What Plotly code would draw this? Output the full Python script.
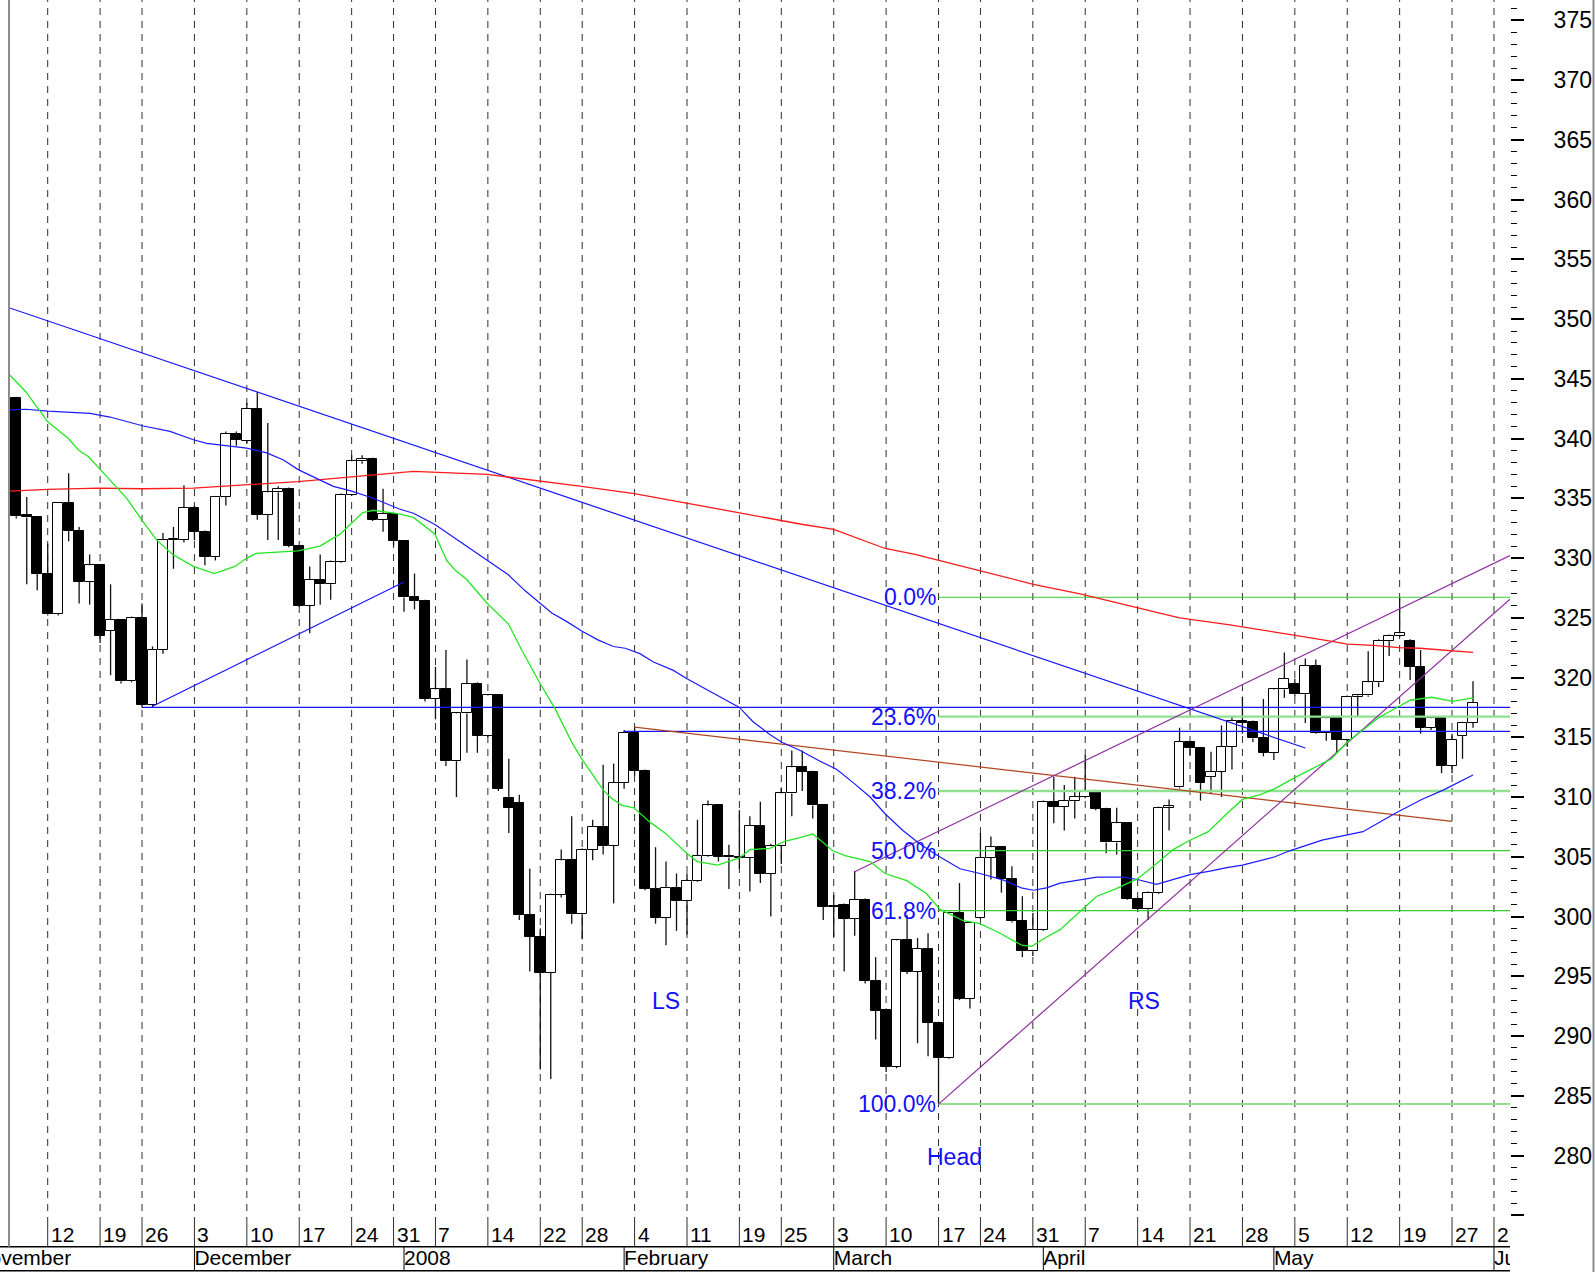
import plotly.graph_objects as go
import pandas as pd

W, H = 1595, 1272

# ---------------- calendar ----------------
HOLIDAYS = ["2007-11-22", "2007-12-25", "2008-01-01", "2008-01-21",
            "2008-02-18", "2008-03-21", "2008-05-26"]
SESSIONS = [d.strftime("%Y-%m-%d") for d in
            pd.bdate_range("2007-11-01", "2008-06-06", freq="C", holidays=HOLIDAYS)]
ORIGIN = "2007-11-12"


def xpos(day):
    return SESSIONS.index(day) - SESSIONS.index(ORIGIN)


# ---------------- candles (from 2007-11-07) ----------------
CANDLE_START = "2007-11-07"
OPEN = [343.4, 333.6, 333.4, 328.7, 325.3, 334.6, 332.3, 328.0, 329.4, 323.9,
        324.8, 319.7, 325.0, 317.7, 322.3, 331.5, 331.5, 334.2, 332.2, 330.1,
        335.1, 340.4, 339.8, 342.5, 333.6, 335.5, 335.8, 331.0, 326.0, 328.2,
        327.8, 329.7, 335.3, 338.1, 338.3, 333.2, 333.7, 331.4, 326.7, 326.4,
        318.2, 319.0, 313.0, 317.0, 319.5, 315.1, 318.5, 309.9, 309.5, 300.1,
        298.3, 295.3, 301.8, 304.7, 300.2, 305.6, 307.5, 305.9, 311.2, 315.4,
        312.2, 302.3, 299.9, 302.4, 301.3, 303.0, 305.1, 309.3, 305.1, 305.0,
        304.9, 307.6, 303.6, 305.9, 310.3, 312.5, 312.1, 309.3, 300.8, 301.0,
        299.8, 301.4, 294.6, 292.2, 287.4, 298.0, 295.4, 297.3, 291.1, 288.2,
        300.3, 293.1, 299.9, 304.9, 305.8, 303.1, 299.6, 297.1, 298.9, 309.6,
        309.2, 309.7, 310.0, 310.5, 309.0, 306.2, 307.8, 301.5, 300.6, 302.0,
        309.1, 310.8, 314.6, 314.1, 311.7, 312.1, 314.2, 316.4, 316.3, 314.9,
        313.7, 319.0, 319.5, 318.6, 321.0, 315.4, 316.6, 314.8, 318.4, 318.5,
        319.6, 323.1, 323.5, 323.1, 320.9, 315.8, 316.6, 312.6, 315.1, 316.2]
HIGH = [343.5, 335.1, 333.5, 331.2, 334.7, 337.1, 332.6, 330.3, 329.5, 327.8,
        324.9, 325.1, 326.2, 322.6, 332.1, 332.6, 336.1, 334.4, 332.3, 335.2,
        340.6, 340.6, 343.0, 343.9, 341.3, 336.0, 335.9, 331.1, 329.3, 330.3,
        329.8, 335.4, 338.6, 338.6, 338.4, 335.8, 333.8, 331.5, 328.7, 326.5,
        320.9, 322.3, 317.1, 321.5, 319.6, 318.6, 318.6, 313.2, 310.2, 304.0,
        299.0, 301.9, 305.6, 308.4, 305.7, 308.1, 312.7, 312.8, 315.6, 315.8,
        312.3, 305.8, 304.6, 303.6, 303.6, 308.1, 309.7, 309.4, 306.0, 308.9,
        308.4, 309.6, 306.1, 310.8, 313.9, 313.9, 312.2, 309.4, 301.8, 301.1,
        303.8, 301.5, 296.6, 292.3, 298.1, 300.1, 298.2, 298.6, 291.2, 300.4,
        302.8, 299.6, 307.0, 306.7, 305.9, 304.2, 301.7, 300.3, 309.7, 311.7,
        311.0, 311.7, 313.5, 310.6, 309.1, 309.1, 307.9, 301.6, 302.1, 309.2,
        309.8, 315.8, 314.7, 314.2, 313.8, 316.0, 316.8, 318.4, 316.4, 318.2,
        319.1, 322.1, 319.9, 321.6, 321.5, 316.7, 316.7, 318.5, 318.6, 322.2,
        323.2, 323.6, 326.7, 323.2, 322.3, 316.7, 316.7, 315.3, 316.3, 319.7]
LOW = [333.3, 327.8, 327.3, 325.2, 325.2, 331.4, 326.2, 326.1, 322.9, 320.2,
       319.5, 319.6, 317.5, 317.5, 322.0, 329.1, 331.3, 331.5, 329.4, 329.8,
       334.4, 339.4, 339.6, 333.2, 331.5, 331.5, 330.9, 325.9, 323.7, 326.1,
       326.5, 329.6, 335.2, 337.9, 333.1, 332.2, 331.0, 325.5, 325.7, 318.0,
       316.5, 312.6, 310.0, 313.7, 313.7, 315.0, 310.5, 307.0, 299.7, 295.4,
       287.2, 286.4, 301.6, 299.4, 298.1, 304.7, 305.2, 301.1, 310.7, 311.8,
       302.2, 299.4, 297.6, 298.8, 298.5, 302.9, 305.0, 304.6, 302.3, 304.0,
       302.1, 302.8, 300.0, 304.4, 308.4, 310.5, 308.2, 299.7, 298.3, 295.4,
       298.4, 294.4, 289.7, 287.0, 287.3, 295.2, 289.4, 288.3, 284.3, 288.1,
       293.0, 292.3, 299.8, 303.1, 302.0, 299.5, 296.6, 296.7, 298.8, 307.8,
       307.2, 308.2, 309.9, 308.9, 305.3, 305.2, 301.4, 300.4, 299.7, 301.9,
       307.2, 310.7, 313.5, 309.7, 310.3, 310.0, 312.3, 315.3, 314.6, 313.4,
       313.1, 318.3, 318.4, 316.2, 315.3, 314.7, 313.7, 314.2, 316.7, 318.4,
       319.2, 321.8, 323.4, 319.8, 315.3, 315.6, 312.0, 312.0, 313.2, 315.8]
CLOSE = [333.5, 333.4, 328.7, 325.3, 334.6, 332.3, 328.0, 329.4, 323.5, 324.8,
         319.7, 325.0, 317.7, 322.3, 331.5, 331.6, 334.2, 332.2, 330.1, 335.1,
         340.4, 339.9, 342.5, 333.6, 335.5, 335.8, 331.0, 326.0, 328.2, 327.8,
         329.7, 335.3, 338.1, 338.3, 333.2, 333.7, 331.4, 326.7, 326.4, 318.2,
         319.0, 313.0, 317.0, 319.5, 315.1, 318.5, 310.7, 309.1, 300.1, 298.3,
         295.3, 301.8, 304.7, 300.2, 305.6, 307.5, 305.9, 311.2, 315.4, 312.2,
         302.3, 299.9, 302.4, 301.3, 303.0, 305.1, 309.3, 305.0, 304.95, 304.9,
         307.6, 303.6, 305.9, 310.3, 312.5, 312.1, 309.3, 300.8, 300.9, 299.8,
         301.4, 294.6, 292.1, 287.4, 298.0, 295.4, 297.3, 291.1, 288.2, 300.3,
         293.1, 299.5, 304.9, 305.8, 303.1, 299.6, 297.1, 298.9, 309.6, 309.2,
         309.7, 310.0, 310.5, 309.0, 306.2, 307.8, 301.5, 300.6, 302.0, 309.1,
         309.2, 314.6, 314.1, 311.2, 312.1, 314.2, 316.4, 316.2, 314.9, 313.7,
         319.0, 319.9, 318.6, 321.0, 315.4, 316.6, 314.8, 318.4, 318.5, 319.6,
         323.1, 323.5, 323.7, 320.9, 315.8, 316.6, 312.6, 314.8, 316.2, 317.9]

# ---------------- moving averages (trading-day number, value) ----------------
GREEN_MA = [(-3.6, 345.3), (-2.07, 343.9), (0, 341.4), (1.97, 340.0), (2.99, 339.0), (3.87, 338.5),
            (4.92, 337.5), (6.74, 335.7), (7.54, 335.0), (8.97, 333.2), (10.4, 331.5), (11.93, 330.3),
            (13.9, 329.3), (15.9, 328.7), (17.87, 329.3), (19.0, 330.0), (19.9, 330.4), (23.9, 330.6),
            (25.98, 331.0), (27.89, 332.0), (29.0, 332.9), (30.06, 333.8), (31.07, 334.0), (32.66, 333.8),
            (33.5, 333.7), (34.9, 333.4), (36.95, 332.0), (38.07, 329.8), (38.86, 329.0), (39.98, 328.2),
            (41.95, 326.2), (43.95, 324.5), (45.23, 322.3), (46.98, 319.5), (48.41, 317.4), (50.0, 314.6),
            (50.95, 313.2), (51.9, 312.0), (53.0, 310.6), (53.8, 309.9), (54.77, 309.3), (55.94, 309.1),
            (57.47, 307.9), (58.9, 307.0), (60.97, 305.3), (61.98, 304.6), (63.93, 304.3), (65.99, 304.9),
            (67.0, 305.6), (68.9, 305.7), (70.33, 306.3), (71.76, 306.6), (73.0, 306.9), (74.0, 306.2),
            (74.9, 305.5), (76.08, 305.1), (78.47, 304.6), (79.9, 303.6), (81.97, 303.0), (83.87, 301.9),
            (85.14, 300.6), (87.37, 299.65), (88.96, 299.4), (90.87, 298.6), (92.94, 297.6), (93.89, 297.5),
            (95.16, 298.2), (96.6, 298.9), (98.98, 300.8), (100.1, 301.7), (101.85, 302.3), (103.97, 303.15),
            (105.5, 304.2), (107.4, 305.6), (108.8, 306.3), (110.74, 307.1), (112.5, 308.6), (114.0, 309.8),
            (115.7, 310.2), (117.1, 310.7), (118.95, 311.6), (120.76, 312.4), (122.5, 313.2), (124.0, 314.6),
            (125.86, 315.9), (127.1, 316.7), (128.97, 317.6), (130.0, 318.1), (132.06, 318.35), (134.06, 318.0),
            (136.0, 318.3)]
BLUE_MA = [(-3.6, 342.4), (-2.07, 342.45), (0, 342.3), (1.97, 342.2), (4.04, 342.1), (5.94, 341.8),
           (8.0, 341.3), (9.12, 341.05), (11.67, 340.6), (13.9, 339.9), (15.17, 339.6), (17.7, 339.3),
           (19.0, 339.2), (20.9, 338.8), (22.5, 338.2), (23.9, 337.4), (25.98, 336.5), (27.25, 336.0),
           (29.0, 335.6), (31.07, 335.0), (33.55, 334.1), (34.9, 333.75), (36.95, 332.8), (39.3, 331.4),
           (41.9, 329.8), (43.95, 328.6), (45.5, 327.3), (46.98, 326.2), (48.1, 325.4), (49.5, 324.7),
           (50.95, 323.9), (52.5, 323.15), (53.97, 322.6), (55.1, 322.45), (56.5, 322.0), (57.8, 321.3),
           (59.7, 320.6), (61.0, 319.9), (63.5, 318.7), (65.1, 318.0), (66.0, 317.5), (67.3, 316.3),
           (68.8, 315.3), (70.0, 314.6), (71.8, 313.9), (73.7, 313.0), (75.3, 312.3), (77.0, 311.1),
           (78.47, 310.0), (79.9, 308.6), (81.6, 307.2), (83.2, 306.1), (84.98, 305.06), (87.05, 304.0),
           (88.96, 303.6), (91.2, 303.05), (92.9, 302.4), (94.05, 302.2), (95.3, 302.4), (96.6, 302.8),
           (98.98, 303.15), (100.1, 303.3), (102.6, 303.3), (103.97, 303.1), (105.8, 302.7), (107.4, 303.1),
           (109.0, 303.5), (110.9, 303.8), (112.5, 304.1), (114.0, 304.3), (115.7, 304.65), (117.1, 305.0),
           (118.5, 305.5), (121.6, 306.4), (125.5, 307.1), (128.5, 308.6), (131.1, 309.8), (133.2, 310.6),
           (136.0, 311.85)]
RED_MA = [(-3.6, 335.6), (0, 335.75), (4.9, 335.85), (9.0, 335.8), (13.9, 335.85), (19.0, 336.1),
          (23.9, 336.4), (29.0, 336.8), (33.6, 337.2), (34.9, 337.25), (41.95, 337.0), (46.98, 336.45),
          (50.95, 336.0), (55.97, 335.4), (60.97, 334.6), (66.0, 333.75), (71.8, 332.85), (75.0, 332.4),
          (79.9, 330.8), (82.76, 330.3), (84.8, 329.85), (88.96, 328.9), (94.05, 327.8), (98.5, 327.0),
          (103.3, 326.0), (108.0, 325.0), (112.8, 324.4), (116.6, 323.9), (118.9, 323.55), (122.4, 323.05),
          (124.0, 322.8), (126.5, 322.7), (128.95, 322.5), (130.9, 322.45), (134.06, 322.25), (136.0, 322.1)]

# ---------------- drawn lines (trading-day number, value) ----------------
X_LEFT, X_RIGHT = -3.693, 139.53
BLUE_DOWNTREND = [(-3.693, 350.95), (120.0, 314.1)]
BLUE_UPTREND = [(10.0, 317.6), (34.0, 328.0)]
BLUE_LEVEL_HIGH = [(9.0, 317.5), (X_RIGHT, 317.5)]
BLUE_LEVEL_LOW = [(55.0, 315.5), (X_RIGHT, 315.5)]
NECKLINE = [(56.0, 315.85), (134.0, 307.97)]
CHANNEL_UPPER = [(77.0, 303.75), (X_RIGHT, 330.2)]
CHANNEL_LOWER = [(85.0, 284.3), (X_RIGHT, 326.55)]

FIB_START = "2008-03-17"
FIB_LABELS = ["0.0%", "23.6%", "38.2%", "50.0%", "61.8%", "100.0%"]
FIB_LEVELS = [326.72, 316.73, 310.5, 305.52, 300.5, 284.31]

PATTERN_LABELS = ["LS", "Head", "RS"]
PATTERN_X = [59.0, 86.5, 104.6]
PATTERN_Y = [292.95, 279.9, 292.95]

WEEK_STARTS = ["2007-11-12", "2007-11-19", "2007-11-26", "2007-12-03", "2007-12-10", "2007-12-17",
               "2007-12-24", "2007-12-31", "2008-01-07", "2008-01-14", "2008-01-22", "2008-01-28",
               "2008-02-04", "2008-02-11", "2008-02-19", "2008-02-25", "2008-03-03", "2008-03-10",
               "2008-03-17", "2008-03-24", "2008-03-31", "2008-04-07", "2008-04-14", "2008-04-21",
               "2008-04-28", "2008-05-05", "2008-05-12", "2008-05-19", "2008-05-27", "2008-06-02"]
WEEK_LABELS = ["12", "19", "26", "3", "10", "17", "24", "31", "7", "14", "22", "28", "4", "11",
               "19", "25", "3", "10", "17", "24", "31", "7", "14", "21", "28", "5", "12", "19", "27", "2"]
MONTH_STARTS = ["2007-11-01", "2007-12-03", "2008-01-02", "2008-02-01", "2008-03-03",
                "2008-04-01", "2008-05-01", "2008-06-02"]
MONTH_LABELS = ["November", "December", "2008", "February", "March", "April", "May", "June"]

Y_RANGE = [272.37, 376.70]
Y_TICKS = list(range(275, 380, 5))

FONT = "Liberation Sans, Arial, sans-serif"


def py(pix):
    return 1 - pix / H


# ---------------- build ----------------
start = SESSIONS.index(CANDLE_START)
cx = [xpos(SESSIONS[start + k]) for k in range(len(OPEN))]

fig = go.Figure()

# wicks (split so they never cross the bodies)
wx, wy = [], []
for x, o, h, l, c in zip(cx, OPEN, HIGH, LOW, CLOSE):
    top, bot = max(o, c), min(o, c)
    if h > top:
        wx += [x, x, None]
        wy += [h, top, None]
    if l < bot:
        wx += [x, x, None]
        wy += [bot, l, None]
fig.add_trace(go.Scatter(x=wx, y=wy, mode="lines", line=dict(color="#111111", width=1.3),
                         hoverinfo="skip"))

for up in (True, False):
    bx, bb, bh = [], [], []
    for x, o, c in zip(cx, OPEN, CLOSE):
        if (c >= o) == up:
            bx.append(x)
            bb.append(min(o, c))
            bh.append(max(abs(c - o), 0.12))
    fig.add_trace(go.Bar(x=bx, y=bh, base=bb, width=0.93,
                         marker=dict(color="white" if up else "black",
                                     line=dict(color="black", width=1)),
                         hoverinfo="skip"))

# Fibonacci lines
fib_x0 = xpos(FIB_START)
fib_styles = [("#33cc33", 1.2), ("#8fe08f", 2.4), ("#8fe08f", 2.4), ("#33cc33", 1.2),
              ("#33cc33", 1.2), ("#8fe08f", 1.8)]
for lvl, (col, wd) in zip(FIB_LEVELS, fib_styles):
    fig.add_trace(go.Scatter(x=[fib_x0, X_RIGHT], y=[lvl, lvl], mode="lines",
                             line=dict(color=col, width=wd), hoverinfo="skip"))


def seg(points, color, width=1.2):
    fig.add_trace(go.Scatter(x=[p[0] for p in points], y=[p[1] for p in points], mode="lines",
                             line=dict(color=color, width=width), hoverinfo="skip"))


seg(BLUE_DOWNTREND, "#1414ff")
seg(BLUE_UPTREND, "#1414ff")
seg(BLUE_LEVEL_HIGH, "#1414ff")
seg(BLUE_LEVEL_LOW, "#1414ff")
seg(NECKLINE, "#b0441e")
seg(CHANNEL_UPPER, "#8e2c9e")
seg(CHANNEL_LOWER, "#8e2c9e")
seg(RED_MA, "#ff1a1a", 1.3)
seg(BLUE_MA, "#1a1aff", 1.2)
seg(GREEN_MA, "#22e622", 1.3)

# month band text (clipped to its own strip)
fig.add_trace(go.Scatter(x=[xpos(m) for m in MONTH_STARTS], y=[0.5] * len(MONTH_STARTS),
                         mode="text", text=MONTH_LABELS, textposition="middle right",
                         textfont=dict(family=FONT, size=21, color="black"),
                         cliponaxis=True, xaxis="x2", yaxis="y2", hoverinfo="skip"))

shapes = []
for d in WEEK_STARTS:
    x = xpos(d)
    shapes.append(dict(type="line", xref="x", yref="paper", x0=x, x1=x, y0=py(1224), y1=1,
                       line=dict(color="#2e2e2e", width=1, dash="7px,6px"), layer="below"))
    shapes.append(dict(type="line", xref="x", yref="paper", x0=x, x1=x, y0=py(1246.7), y1=py(1224),
                       line=dict(color="#2e2e2e", width=1), layer="below"))
for m in MONTH_STARTS[1:]:
    x = xpos(m)
    shapes.append(dict(type="line", xref="x2", yref="paper", x0=x, x1=x, y0=py(1270.7), y1=py(1246.7),
                       line=dict(color="black", width=1)))
for ypix in (1246.7, 1270.7):
    shapes.append(dict(type="line", xref="paper", yref="paper", x0=0, x1=1510 / W, y0=py(ypix), y1=py(ypix),
                       line=dict(color="black", width=1.5)))
shapes.append(dict(type="line", xref="paper", yref="paper", x0=9 / W, x1=9 / W, y0=py(1246.7), y1=1,
                   line=dict(color="#8c8c8c", width=2)))
shapes.append(dict(type="line", xref="paper", yref="paper", x0=1593.5 / W, x1=1593.5 / W, y0=0, y1=1,
                   line=dict(color="#8c8c8c", width=2)))

annotations = []
for d, t in zip(WEEK_STARTS, WEEK_LABELS):
    annotations.append(dict(x=xpos(d), y=py(1234.5), xref="x", yref="paper", text=t, showarrow=False,
                            xanchor="left", yanchor="middle", xshift=1,
                            font=dict(family=FONT, size=21, color="black")))
for lbl, lvl in zip(FIB_LABELS, FIB_LEVELS):
    annotations.append(dict(x=fib_x0, y=lvl, xref="x", yref="y", text=lbl, showarrow=False,
                            xanchor="right", yanchor="middle", xshift=-1,
                            font=dict(family=FONT, size=23, color="#1010ff")))
for t, x, y in zip(PATTERN_LABELS, PATTERN_X, PATTERN_Y):
    annotations.append(dict(x=x, y=y, xref="x", yref="y", text=t, showarrow=False,
                            xanchor="center", yanchor="middle",
                            font=dict(family=FONT, size=23, color="#1010ff")))

fig.update_layout(
    width=W, height=H, margin=dict(l=0, r=0, t=0, b=0, pad=0),
    paper_bgcolor="white", plot_bgcolor="white",
    showlegend=False, hovermode=False, barmode="overlay", bargap=0,
    xaxis=dict(domain=[9 / W, 1510 / W], range=[X_LEFT, X_RIGHT], showticklabels=False, ticks="",
               showgrid=False, zeroline=False, showline=False, anchor="y"),
    yaxis=dict(domain=[py(1246.7), 1], range=Y_RANGE, side="right", anchor="x",
               tickmode="array", tickvals=Y_TICKS,
               ticktext=["" if v == 275 else str(v) for v in Y_TICKS],
               ticks="outside", ticklen=13, tickwidth=1.5, tickcolor="black",
               ticklabelstandoff=25,
               tickfont=dict(family=FONT, size=23, color="black"),
               minor=dict(tickmode="array", tickvals=[v for v in range(276, 377) if v % 5],
                          ticks="outside", ticklen=6, tickwidth=1, tickcolor="black"),
               showgrid=False, zeroline=False, showline=False),
    xaxis2=dict(domain=[0, 1510 / W], range=[-4.552, X_RIGHT], visible=False, anchor="y2"),
    yaxis2=dict(domain=[0, py(1248)], range=[0, 1], visible=False, anchor="x2"),
    shapes=shapes, annotations=annotations,
)

fig.write_html("out.html", config={"displayModeBar": False},
               post_script="document.body.style.margin='0';document.body.style.overflow='hidden';")
